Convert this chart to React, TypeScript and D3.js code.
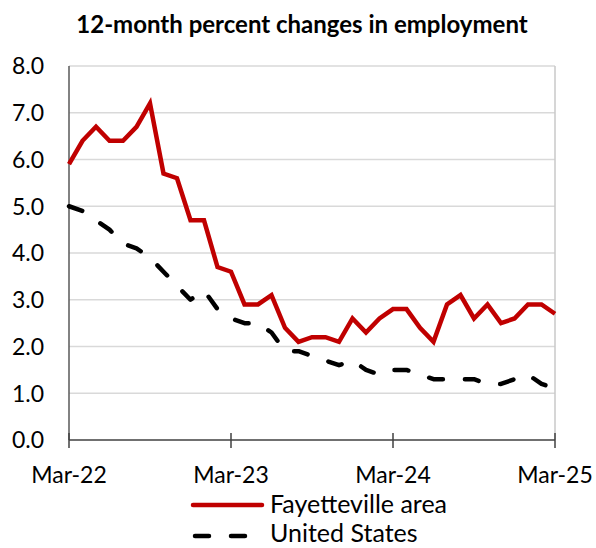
import React from "react";
import * as d3 from "d3";

const title = "12-month percent changes in employment";
const xTickLabels = ["Mar-22", "Mar-23", "Mar-24", "Mar-25"];
const xTickIndex = [0, 12, 24, 36];
const yTicks = [0, 1, 2, 3, 4, 5, 6, 7, 8];
const seriesNames = ["Fayetteville area", "United States"];

const fayetteville = [
  5.9, 6.4, 6.7, 6.4, 6.4, 6.7, 7.2, 5.7, 5.6, 4.7, 4.7, 3.7, 3.6, 2.9, 2.9, 3.1,
  2.4, 2.1, 2.2, 2.2, 2.1, 2.6, 2.3, 2.6, 2.8, 2.8, 2.4, 2.1, 2.9, 3.1, 2.6, 2.9,
  2.5, 2.6, 2.9, 2.9, 2.7,
];
const unitedStates = [
  5.0, 4.9, 4.7, 4.5, 4.2, 4.1, 3.9, 3.6, 3.3, 3.0, 3.2, 2.8, 2.6, 2.5, 2.5, 2.3,
  1.9, 1.9, 1.8, 1.7, 1.6, 1.7, 1.5, 1.4, 1.5, 1.5, 1.4, 1.3, 1.3, 1.3, 1.3, 1.2,
  1.2, 1.3, 1.4, 1.2, 1.1,
];

const W = 596;
const H = 548;
const M = { left: 69, right: 555, top: 66, bottom: 440 };
const FONT = "Lato, 'Open Sans', sans-serif";

export default function App() {
  const x = d3.scaleLinear().domain([0, 36]).range([M.left, M.right]);
  const y = d3.scaleLinear().domain([0, 8]).range([M.bottom, M.top]);
  const line = d3
    .line<number>()
    .x((_, i) => x(i))
    .y((d) => y(d));

  return (
    <svg
      width={W}
      height={H}
      style={{ position: "absolute", left: 0, top: 0, background: "#fff" }}
      fontFamily={FONT}
    >
      <rect x={0} y={0} width={W} height={H} fill="#fff" />
      <text
        x={302}
        y={33}
        textAnchor="middle"
        fontWeight="bold"
        fontSize={24}
        fill="#000"
      >
        {title}
      </text>
      {yTicks
        .filter((t) => t > 0)
        .map((t) => (
          <line
            key={t}
            x1={M.left}
            x2={M.right}
            y1={y(t)}
            y2={y(t)}
            stroke="#d9d9d9"
            strokeWidth={1.5}
          />
        ))}
      <line x1={M.right} x2={M.right} y1={M.top} y2={M.bottom} stroke="#c8c8c8" strokeWidth={1.5} />
      <line x1={M.left} x2={M.left} y1={M.top} y2={M.bottom} stroke="#595959" strokeWidth={1.5} />
      {yTicks.map((t) => (
        <text
          key={t}
          x={44}
          y={y(t)}
          dy="0.36em"
          textAnchor="end"
          fontSize={23}
          fill="#000"
        >
          {t.toFixed(1)}
        </text>
      ))}
      <line x1={M.left} x2={M.right} y1={M.bottom} y2={M.bottom} stroke="#404040" strokeWidth={1.5} />
      {xTickIndex.map((idx, i) => (
        <g key={idx}>
          <line
            x1={x(idx)}
            x2={x(idx)}
            y1={M.bottom - 7}
            y2={M.bottom + 8}
            stroke="#404040"
            strokeWidth={1.5}
          />
          <text x={x(idx)} y={483} textAnchor="middle" fontSize={23} fill="#000">
            {xTickLabels[i]}
          </text>
        </g>
      ))}
      <path
        d={line(unitedStates) || ""}
        fill="none"
        stroke="#000"
        strokeWidth={4.5}
        strokeDasharray="14,22"
        strokeLinecap="round"
        strokeLinejoin="round"
      />
      <path
        d={line(fayetteville) || ""}
        fill="none"
        stroke="#c00000"
        strokeWidth={4.5}
        strokeLinejoin="miter"
      />
      <line x1={193} x2={262} y1={505} y2={505} stroke="#c00000" strokeWidth={4.5} strokeLinecap="round" />
      <text x={270} y={513} fontSize={25} fill="#000">
        {seriesNames[0]}
      </text>
      <line
        x1={195}
        x2={262}
        y1={536}
        y2={536}
        stroke="#000"
        strokeWidth={4.5}
        strokeDasharray="14,22"
        strokeLinecap="round"
      />
      <text x={270} y={542} fontSize={25} fill="#000">
        {seriesNames[1]}
      </text>
    </svg>
  );
}
